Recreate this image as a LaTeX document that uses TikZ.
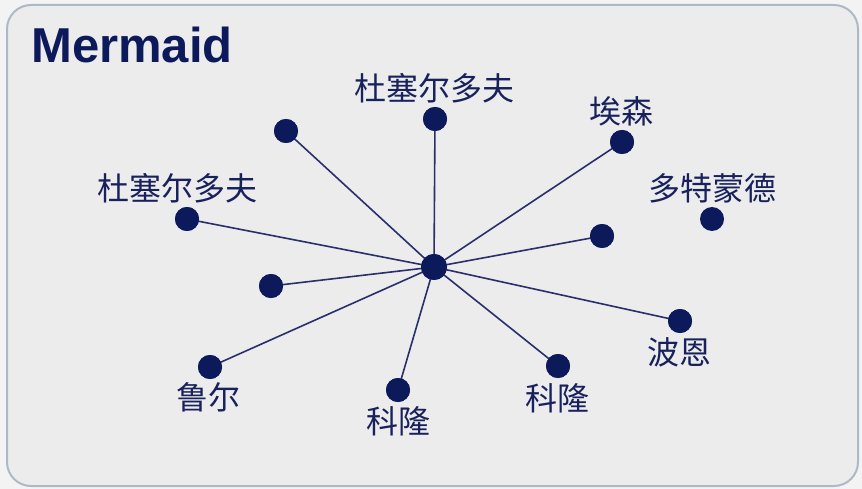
\documentclass[tikz,border=0pt]{standalone}
\usepackage{fontspec}
\setmainfont{Liberation Sans}
\newfontfamily\cjk{Noto Sans CJK SC}
\definecolor{navy}{HTML}{0C1A5C}
\definecolor{edgec}{HTML}{2A2F6C}
\definecolor{txtc}{HTML}{18215C}
\definecolor{framec}{HTML}{AEB9C8}
\definecolor{panel}{HTML}{ECECEC}
\definecolor{outbg}{HTML}{F3F3F3}
\begin{document}
\begin{tikzpicture}[x=1pt,y=-1pt,
  dot/.style={circle,fill=navy,draw=none,minimum size=24pt,inner sep=0pt},
  hub/.style={circle,fill=navy,draw=none,minimum size=26pt,inner sep=0pt},
  lbl/.style={font=\cjk\fontsize{32}{34}\selectfont,text=txtc,inner sep=0pt,anchor=center},
  link/.style={draw=edgec,line width=1.6pt}]
\useasboundingbox (0,0) rectangle (862,489);
\fill[outbg] (0,0) rectangle (862,489);
\draw[framec,line width=2pt,fill=panel,rounded corners=24pt] (7,5) rectangle (858,486);
\node[anchor=west,inner sep=0pt,text=navy,font=\bfseries\fontsize{49}{52}\selectfont] (title) at (31,45) {Mermaid};
% nodes
\node[hub] (c) at (434,267) {};
\node[dot] (n1) at (286,131) {};
\node[dot] (n2) at (435,119) {};
\node[dot] (n3) at (622,142) {};
\node[dot] (n4) at (712,219) {};
\node[dot] (n5) at (602,236) {};
\node[dot] (n6) at (187,219) {};
\node[dot] (n7) at (271,286) {};
\node[dot] (n8) at (210,367) {};
\node[dot] (n9) at (398,390) {};
\node[dot] (n10) at (558,366) {};
\node[dot] (n11) at (680,321) {};
% labels
\node[lbl] (l2) at (434,88) {杜塞尔多夫};
\node[lbl] (l3) at (621,111) {埃森};
\node[lbl] (l4) at (712,188) {多特蒙德};
\node[lbl] (l6) at (177,188) {杜塞尔多夫};
\node[lbl] (l8) at (208,397) {鲁尔};
\node[lbl] (l9) at (398,421) {科隆};
\node[lbl] (l10) at (557,398) {科隆};
\node[lbl] (l11) at (679,352) {波恩};
% links
\foreach \n in {n1,n2,n3,n5,n6,n7,n8,n9,n10,n11}
  \draw[link] (c.center) -- (\n.center);
% redraw dots on top
\node[hub] at (c) {};
\foreach \n in {n1,n2,n3,n5,n6,n7,n8,n9,n10,n11}
  \node[dot] at (\n) {};
\end{tikzpicture}
\end{document}
